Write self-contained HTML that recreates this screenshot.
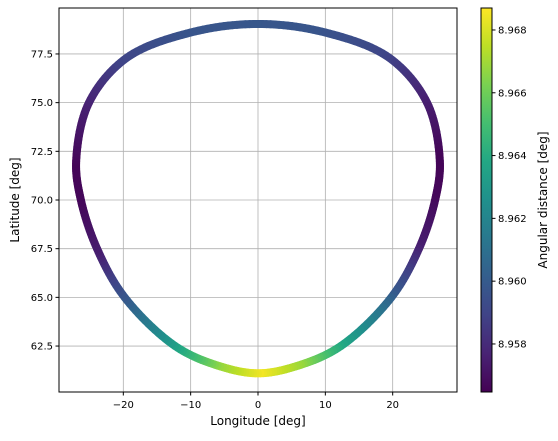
<!DOCTYPE html>
<html><head><meta charset="utf-8">
<style>
body{margin:0;background:#fff;}
svg text{font-family:"DejaVu Sans","Liberation Sans",sans-serif;fill:#000;}
</style></head>
<body>
<svg id="chart" width="558" height="436" xmlns="http://www.w3.org/2000/svg">
<defs>
<linearGradient id="vir" x1="0" y1="1" x2="0" y2="0"></linearGradient>
</defs>
<g id="grid"></g>
<g id="marks"></g>
<g id="axes"></g>
</svg>
<script>
const lonVals=[0,10,19.5,25.1,27.0,26.3,23.9,19.8,12.3,6,0,-6,-12.3,-19.8,-23.9,-26.3,-27.0,-25.1,-19.5,-10,0];
const latVals=[79.04,78.6,77.3,75.0,72.0,70.0,67.5,65.0,62.5,61.5,61.1,61.5,62.5,65.0,67.5,70.0,72.0,75.0,77.3,78.6,79.04];
const distVals=[8.9598,8.9597,8.9590,8.9576,8.9566,8.9567,8.9575,8.9600,8.9637,8.9668,8.9685,8.9668,8.9637,8.9600,8.9575,8.9567,8.9566,8.9576,8.9590,8.9597,8.9598];
const xTicks=[-20,-10,0,10,20];
const yTicks=[62.5,65.0,67.5,70.0,72.5,75.0,77.5];
const cTicks=[8.958,8.960,8.962,8.964,8.966,8.968];

const NS='http://www.w3.org/2000/svg';
const L=59,R=457,T=8,B=392;
const xmin=-29.55,xmax=29.55,ymin=60.14,ymax=79.86;
const vmin=8.95647,vmax=8.96870;
const X=v=>L+(v-xmin)/(xmax-xmin)*(R-L);
const Y=v=>B-(v-ymin)/(ymax-ymin)*(B-T);
const CL=481,CR=492;
const CY=v=>B-(v-vmin)/(vmax-vmin)*(B-T);
const vir=[[68,1,84],[72,35,116],[64,67,135],[52,94,141],[41,120,142],[32,144,140],[34,167,132],[68,190,112],[121,209,81],[189,222,38],[253,231,37]];
function cmap(t){t=Math.max(0,Math.min(1,t))*(vir.length-1);const i=Math.min(vir.length-2,Math.floor(t)),f=t-i;const c=vir[i].map((a,k)=>Math.round(a+(vir[i+1][k]-a)*f));return `rgb(${c[0]},${c[1]},${c[2]})`;}
function mk(tag,attrs,parent){const e=document.createElementNS(NS,tag);for(const k in attrs)e.setAttribute(k,attrs[k]);parent.appendChild(e);return e;}
const grid=document.getElementById('grid'),marks=document.getElementById('marks'),axes=document.getElementById('axes');
xTicks.forEach(v=>{const l=mk('line',{x1:X(v),x2:X(v),y1:T,y2:B,stroke:'#b0b0b0','stroke-width':0.8},grid);});
yTicks.forEach(v=>{const l=mk('line',{x1:L,x2:R,y1:Y(v),y2:Y(v),stroke:'#b0b0b0','stroke-width':0.8},grid);});
const n=lonVals.length;
function P(i){if(i<0)i=n-2;if(i>n-1)i=1;return [X(lonVals[i]),Y(latVals[i]),distVals[i]];}
function lerp(a,b,ta,tb,t){const w=(tb-ta)===0?0:(t-ta)/(tb-ta);return [a[0]+(b[0]-a[0])*w,a[1]+(b[1]-a[1])*w];}
function d(a,b){return Math.sqrt(Math.hypot(b[0]-a[0],b[1]-a[1]))||1e-6;}
for(let i=0;i<n-1;i++){const p0=P(i-1),p1=P(i),p2=P(i+1),p3=P(i+2);
 const t0=0,t1=t0+d(p0,p1),t2=t1+d(p1,p2),t3=t2+d(p2,p3);const S=16;let prev=null;
 for(let s=0;s<=S;s++){const t=t1+(t2-t1)*s/S;
  const A1=lerp(p0,p1,t0,t1,t),A2=lerp(p1,p2,t1,t2,t),A3=lerp(p2,p3,t2,t3,t);
  const B1=lerp(A1,A2,t0,t2,t),B2=lerp(A2,A3,t1,t3,t);const C=lerp(B1,B2,t1,t2,t);
  const pt=[C[0],C[1],p1[2]+(p2[2]-p1[2])*s/S];
  if(prev){const ln=mk('line',{x1:prev[0],y1:prev[1],x2:pt[0],y2:pt[1],stroke:cmap((pt[2]-vmin)/(vmax-vmin)),'stroke-width':8,'stroke-linecap':'round'},marks);
   
   }
  prev=pt;}}
const fr=mk('rect',{x:L,y:T,width:R-L,height:B-T,fill:'none',stroke:'#000','stroke-width':1},axes);

xTicks.forEach(v=>{mk('line',{x1:X(v),x2:X(v),y1:B,y2:B+3.5,stroke:'#000'},axes);const t=mk('text',{x:X(v),y:B+16,'font-size':10,'text-anchor':'middle'},axes);t.textContent=String(v).replace('-','\u2212');});
yTicks.forEach(v=>{mk('line',{x1:L-3.5,x2:L,y1:Y(v),y2:Y(v),stroke:'#000'},axes);const t=mk('text',{x:L-6,y:Y(v)+3.5,'font-size':10,'text-anchor':'end'},axes);t.textContent=v.toFixed(1);});
const xl=mk('text',{x:(L+R)/2,y:425,'font-size':12,'text-anchor':'middle'},axes);xl.textContent='Longitude [deg]';
const yl=mk('text',{x:0,y:0,'font-size':12,'text-anchor':'middle',transform:`translate(19,${(T+B)/2}) rotate(-90)`},axes);yl.textContent='Latitude [deg]';
const g=document.getElementById('vir');vir.forEach((c,i)=>mk('stop',{offset:i/(vir.length-1),'stop-color':`rgb(${c})`},g));
const cb=mk('rect',{x:CL,y:T,width:CR-CL,height:B-T,fill:'url(#vir)',stroke:'#000','stroke-width':1},axes);
cTicks.forEach(v=>{mk('line',{x1:CR,x2:CR+3.5,y1:CY(v),y2:CY(v),stroke:'#000'},axes);const t=mk('text',{x:CR+6,y:CY(v)+3.5,'font-size':10},axes);t.textContent=v.toFixed(3);});
const cl=mk('text',{x:0,y:0,'font-size':12,'text-anchor':'middle',transform:`translate(547,${(T+B)/2}) rotate(-90)`},axes);cl.textContent='Angular distance [deg]';
</script>
</body></html>
